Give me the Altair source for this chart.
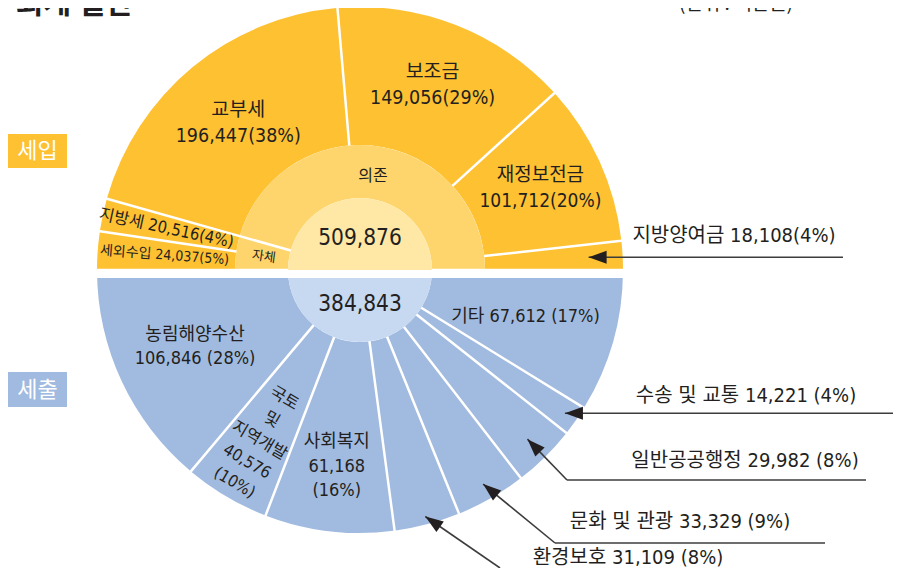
import math
import altair as alt
import pandas as pd

# ---------------- data ----------------
rev_names = ["세외수입", "지방세", "교부세", "보조금", "재정보전금", "지방양여금"]
rev_values = [24037, 20516, 196447, 149056, 101712, 18108]
rev_pcts = ["5%", "4%", "38%", "29%", "20%", "4%"]
rev_own = [True, True, False, False, False, False]  # 자체 수입 여부
src_names = ["자체", "의존"]

exp_names = ["기타", "수송 및 교통", "일반공공행정", "문화 및 관광", "환경보호",
             "사회복지", "국토 및 지역개발", "농림해양수산"]
exp_label_names = ["기타", "수송 및 교통", "일반공공행정", "문화 및 관광", "환경보호",
                   "사회복지", "국토\n및\n지역개발", "농림해양수산"]
exp_values = [67612, 14221, 29982, 33329, 31109, 61168, 40576, 106846]
exp_pcts = ["17%", "4%", "8%", "9%", "8%", "16%", "10%", "28%"]

side_labels = ["세입", "세출"]
title_text = "회계 결산"
unit_text = "(단위 : 백만원)"

# ---------------- layout / style ----------------
W, H = 885, 560
CX, CY = 352, 262
R_DISK, R_MID, R_OUT = 72, 125, 263
FONT = "DejaVu Sans Condensed, Noto Sans CJK KR, sans-serif"
TXT = "#231f20"
Y_OUT, Y_MID, Y_IN = "#fdc132", "#fed56c", "#ffe8a6"
B_OUT, B_IN = "#a1badf", "#c6d9f1"
GAP = 2.5
LH_TOP, LH_BOT = 26, 24.5

rev_mode = ["inline", "inline", "stack", "stack", "stack", "arrow"]
rev_lr = [196, 198, 191, 199, 198, 0]
rev_fs = [14, 16.5, 19.5, 19.5, 19, 0]
rev_rot = ["radial", "radial", "", "", "", ""]

exp_mode = ["inline", "arrow", "arrow", "arrow", "arrow", "stack3", "stack3", "stack"]
exp_lr = [172, 0, 0, 0, 0, 198, 198, 182]
exp_fs = [18, 0, 0, 0, 0, 18, 16.5, 18]
exp_rot = ["", "", "", "", "", "", "tangent", ""]

arrow_layout = {
    "지방양여금": dict(r=229, elbow=None, end_x=835, tx=726, ty=-21),
    "수송 및 교통": dict(r=250, elbow=None, end_x=885, tx=738, ty=-17),
    "일반공공행정": dict(r=238, elbow=(559, 472), end_x=858, tx=737, ty=-19),
    "문화 및 관광": dict(r=247, elbow=(547, 535), end_x=817, tx=672, ty=-21),
    "환경보호": dict(r=255, elbow=(492, 560), end_x=None, tx=620, ty=-10),
}


def centers(values):
    acc, out = 0, []
    for v in values:
        out.append(acc + v / 2.0)
        acc += v
    return out


def label_text(name, v, pct, mode, sep):
    if mode == "inline":
        return f"{name} {v:,}{sep}({pct})"
    if mode == "stack":
        return f"{name}\n{v:,}{sep}({pct})"
    if mode == "stack3":
        return f"{name}\n{v:,}\n({pct})"
    return ""


def rotation(mode, theta):
    if mode == "radial":
        return theta + 90
    if mode == "tangent":
        return theta - 180
    return 0


def ring_labels(values, labels, lrs, fss, rots, start_deg, lh):
    """Polar anchor (radius, scale value) of the first line so that each
    multi-line block is centred on its slice's mid-angle."""
    total = sum(values)
    rows = []
    for c, lab, lr, fs, rm in zip(centers(values), labels, lrs, fss, rots):
        th = start_deg + 180.0 * c / total
        rot = rotation(rm, th)
        n = lab.count("\n") + 1
        t = math.radians(th)
        x, y = lr * math.sin(t), -lr * math.cos(t)
        k = (n - 1) / 2.0 * lh
        ro = math.radians(rot)
        x += k * math.sin(ro)
        y -= k * math.cos(ro)
        th2 = math.degrees(math.atan2(x, -y))
        while th2 < start_deg - 90:
            th2 += 360
        rows.append({"tpos": (th2 - start_deg) / 180.0 * total, "lr": math.hypot(x, y),
                     "fs": fss and fs, "rot": rot, "label": lab})
    return pd.DataFrame(rows)


rev_total = sum(rev_values)
exp_total = sum(exp_values)

rev_labels = [label_text(n, v, p, m, "") for n, v, p, m in zip(rev_names, rev_values, rev_pcts, rev_mode)]
top_df = pd.DataFrame({"name": rev_names, "value": rev_values, "ord": list(range(len(rev_names)))})
top_lab = ring_labels(rev_values, rev_labels, rev_lr, rev_fs, rev_rot, -90, LH_TOP)

own_sum = sum(v for v, o in zip(rev_values, rev_own) if o)
mid_vals = [own_sum, rev_total - own_sum]
mid_df = pd.DataFrame({"name": src_names, "value": mid_vals, "ord": [0, 1]})
mid_lab = ring_labels(mid_vals, src_names, [97, 95], [13, 16], ["radial", ""], -90, LH_TOP)

top_disk_df = pd.DataFrame({"name": ["합계"], "value": [rev_total], "ord": [0]})
top_disk_lab = ring_labels([rev_total], [f"{rev_total:,}"], [32], [22.5], [""], -90, LH_TOP)
bot_disk_df = pd.DataFrame({"name": ["합계"], "value": [exp_total], "ord": [0]})
bot_disk_lab = ring_labels([exp_total], [f"{exp_total:,}"], [34], [22.5], [""], 90, LH_BOT)

exp_labels = [label_text(n, v, p, m, " ") for n, v, p, m in zip(exp_label_names, exp_values, exp_pcts, exp_mode)]
bot_df = pd.DataFrame({"name": exp_names, "value": exp_values, "ord": list(range(len(exp_names)))})
bot_lab = ring_labels(exp_values, exp_labels, exp_lr, exp_fs, exp_rot, 90, LH_BOT)

# ---------------- arrows (tips from slice mid-angles) ----------------
seg_rows, head_rows, atext_rows = [], [], []


def add_arrows(names, values, pcts, start_deg, sep):
    total = sum(values)
    for n, v, p, c in zip(names, values, pcts, centers(values)):
        if n not in arrow_layout:
            continue
        a = arrow_layout[n]
        t = math.radians(start_deg + 180.0 * c / total)
        tip = (CX + a["r"] * math.sin(t), CY - a["r"] * math.cos(t))
        pts = [tip]
        if a["elbow"] is not None:
            pts.append(a["elbow"])
        if a["end_x"] is not None:
            pts.append((a["end_x"], pts[-1][1]))
        for (x1, y1), (x2, y2) in zip(pts[:-1], pts[1:]):
            seg_rows.append({"x1": x1, "y1": y1, "x2": x2, "y2": y2})
        ang = math.degrees(math.atan2(pts[1][1] - tip[1], pts[1][0] - tip[0]))
        head_rows.append({"x": tip[0], "y": tip[1], "ang": ang})
        atext_rows.append({"x": a["tx"], "y": pts[-1][1] + a["ty"], "label": f"{n} {v:,}{sep}({p})"})


add_arrows(rev_names, rev_values, rev_pcts, -90, "")
add_arrows(exp_names, exp_values, exp_pcts, 90, " ")

seg_df = pd.DataFrame(seg_rows)
head_df = pd.DataFrame(head_rows)
atext_df = pd.DataFrame(atext_rows)

side_df = pd.DataFrame({
    "label": side_labels, "x": [0, 0], "x2": [59, 59], "y": [126, 364], "y2": [160, 399],
    "c": [Y_OUT, B_OUT],
})
side_df["xm"] = (side_df["x"] + side_df["x2"]) / 2
side_df["ym"] = (side_df["y"] + side_df["y2"]) / 2


def ring(df, lab, inner, outer, color, rng, line_height):
    pad = GAP / math.sqrt(inner ** 2 + outer ** 2) if inner > 0 else 0
    total = float(df["value"].sum())
    sc = alt.Scale(domain=[0, total], range=rng)
    arc = alt.Chart(df).mark_arc(innerRadius=inner, outerRadius=outer, padAngle=pad).encode(
        theta=alt.Theta("value:Q", stack=True, scale=sc),
        order=alt.Order("ord:Q"),
        detail=alt.Detail("name:N"),
        x=alt.value(CX), y=alt.value(CY), color=alt.value(color),
    )
    txt = alt.Chart(lab).mark_text(font=FONT, lineBreak="\n", lineHeight=line_height,
                                   align="center", baseline="middle").encode(
        theta=alt.Theta("tpos:Q", stack=None, scale=sc),
        x=alt.value(CX), y=alt.value(CY),
        radius=alt.Radius("lr:Q", scale=None),
        text=alt.Text("label:N"),
        size=alt.Size("fs:Q", scale=None),
        angle=alt.Angle("rot:Q", scale=None),
        color=alt.value(TXT),
    )
    return alt.layer(arc, txt)


TOP = [-math.pi / 2, math.pi / 2]
BOT = [math.pi / 2, 3 * math.pi / 2]

top_outer = ring(top_df, top_lab, R_MID, R_OUT, Y_OUT, TOP, LH_TOP)
top_mid = ring(mid_df, mid_lab, R_DISK, R_MID, Y_MID, TOP, LH_TOP)
top_disk = ring(top_disk_df, top_disk_lab, 0, R_DISK, Y_IN, TOP, LH_TOP)
bot_outer = ring(bot_df, bot_lab, R_DISK, R_OUT, B_OUT, BOT, LH_BOT)
bot_disk = ring(bot_disk_df, bot_disk_lab, 0, R_DISK, B_IN, BOT, LH_BOT)

band = alt.Chart(pd.DataFrame({"k": [0]})).mark_rule(color="white", strokeWidth=8).encode(
    x=alt.value(CX - R_OUT - 5), x2=alt.value(CX + R_OUT + 5), y=alt.value(CY + 4)
)

segs = alt.Chart(seg_df).mark_rule(color="#3c3c3c", strokeWidth=1.6).encode(
    x=alt.X("x1:Q", scale=None, axis=None), y=alt.Y("y1:Q", scale=None, axis=None),
    x2="x2:Q", y2="y2:Q",
)
heads = alt.Chart(head_df).mark_point(shape="M0,0L2,-0.72L2,0.72Z", size=324, filled=True,
                                      opacity=1, strokeWidth=0).encode(
    x=alt.X("x:Q", scale=None, axis=None), y=alt.Y("y:Q", scale=None, axis=None),
    angle=alt.Angle("ang:Q", scale=None), color=alt.value(TXT),
)
atext = alt.Chart(atext_df).mark_text(font=FONT, fontSize=20, align="center", baseline="middle",
                                      color=TXT).encode(
    x=alt.X("x:Q", scale=None, axis=None), y=alt.Y("y:Q", scale=None, axis=None),
    text="label:N",
)

side_box = alt.Chart(side_df).mark_rect().encode(
    x=alt.X("x:Q", scale=None, axis=None), x2="x2:Q",
    y=alt.Y("y:Q", scale=None, axis=None), y2="y2:Q",
    color=alt.Color("c:N", scale=None),
)
side_txt = alt.Chart(side_df).mark_text(font="Noto Sans CJK KR", fontSize=22, color="white",
                                        align="center", baseline="middle").encode(
    x=alt.X("xm:Q", scale=None, axis=None), y=alt.Y("ym:Q", scale=None, axis=None),
    text="label:N",
)

title = alt.Chart(pd.DataFrame({"t": [title_text]})).mark_text(
    font="Noto Sans CJK KR", fontSize=30, fontWeight="bold", align="right",
    baseline="alphabetic", color=TXT).encode(text="t:N", x=alt.value(125), y=alt.value(5))
unit = alt.Chart(pd.DataFrame({"t": [unit_text]})).mark_text(
    font="Noto Sans CJK KR", fontSize=19, align="right", baseline="alphabetic",
    color=TXT).encode(text="t:N", x=alt.value(785), y=alt.value(2))

chart = alt.layer(
    top_outer, top_mid, top_disk, bot_outer, bot_disk, band,
    segs, heads, atext, side_box, side_txt, title, unit,
).resolve_scale(theta="independent").properties(
    width=W, height=H, padding=0, autosize=alt.AutoSizeParams(type="none")
).configure_view(stroke=None)

chart.save("out.html", embed_options={"renderer": "svg", "actions": False})
